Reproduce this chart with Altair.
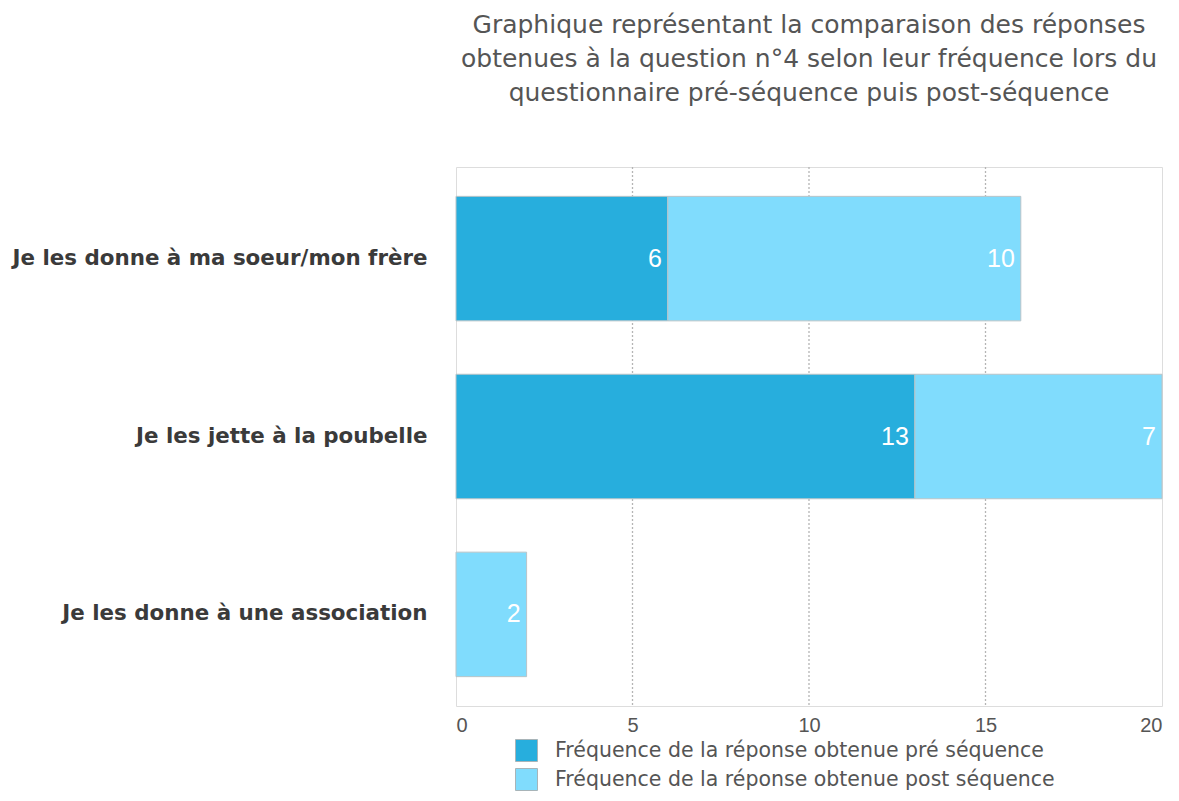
import altair as alt
import pandas as pd

categories = ["Je les donne à ma soeur/mon frère", "Je les jette à la poubelle", "Je les donne à une association"]
series = ["Fréquence de la réponse obtenue pré séquence", "Fréquence de la réponse obtenue post séquence"]
pre_values = [6, 13, 0]
post_values = [10, 7, 2]
x_ticks = [0, 5, 10, 15, 20]
grid_values = [5, 10, 15]
colors = ["#27AEDD", "#80DCFD"]

rows = []
for i, c in enumerate(categories):
    rows.append({"cat": c, "serie": series[0], "val": pre_values[i], "ord": 0})
    rows.append({"cat": c, "serie": series[1], "val": post_values[i], "ord": 1})
df = pd.DataFrame(rows)
grid_df = pd.DataFrame({"g": grid_values})

xscale = alt.Scale(domain=[0, 20], nice=False)
xaxis = alt.Axis(values=x_ticks, grid=False, ticks=False, domain=False, labelFontSize=20,
                 labelColor="#555555", labelFont="Liberation Sans", labelPadding=9)

grid = alt.Chart(grid_df).mark_rule(strokeDash=[2, 2], color="#b5b5b5", strokeWidth=1.3).encode(
    x=alt.X("g:Q", scale=xscale, title=None, axis=xaxis)
)

base = alt.Chart(df).transform_filter("datum.val > 0").transform_stack(
    stack="val", groupby=["cat"], as_=["start", "end"], sort=[alt.SortField("ord")]
)

yenc = alt.Y("cat:N", sort=categories, title=None,
             scale=alt.Scale(paddingInner=0.3, paddingOuter=0.165),
             axis=alt.Axis(labelFontWeight="bold", labelFontSize=21.4, labelColor="#3a3a3a",
                           labelFont="DejaVu Sans", labelPadding=29, ticks=False,
                           domain=False, labelLimit=600))

bars = base.mark_bar(stroke="#b9c4c8", strokeWidth=1).encode(
    y=yenc,
    x=alt.X("start:Q", title=None, scale=xscale, axis=xaxis),
    x2="end:Q",
    color=alt.Color("serie:N", scale=alt.Scale(domain=series, range=colors),
                    legend=alt.Legend(title=None, orient="none", legendX=59, legendY=572,
                                      symbolType="square", symbolSize=484,
                                      symbolStrokeColor="#a8b4b8", symbolStrokeWidth=1,
                                      labelFontSize=20.5, labelColor="#555555",
                                      labelFont="DejaVu Sans", rowPadding=2,
                                      labelOffset=17, labelLimit=700)),
)

labels = base.mark_text(align="right", baseline="middle", dx=-6, fontSize=25,
                        color="white", font="Liberation Sans").encode(
    y=alt.Y("cat:N", sort=categories),
    x=alt.X("end:Q"),
    text=alt.Text("val:Q"),
)

chart = (grid + bars + labels).properties(
    width=706, height=539,
    autosize=alt.AutoSizeParams(type="none"),
    padding={"left": 448, "top": 159, "right": 5, "bottom": 86},
    title=alt.Title(
        ["Graphique représentant la comparaison des réponses",
         "obtenues à la question n°4 selon leur fréquence lors du",
         "questionnaire pré-séquence puis post-séquence"],
        fontSize=25, font="DejaVu Sans", fontWeight="normal", color="#555555",
        anchor="middle", lineHeight=34, offset=60),
).configure_view(stroke="#d4d4d4", strokeWidth=3).configure(background="white")

chart.save("out.html", embed_options={"renderer": "svg", "actions": False})
